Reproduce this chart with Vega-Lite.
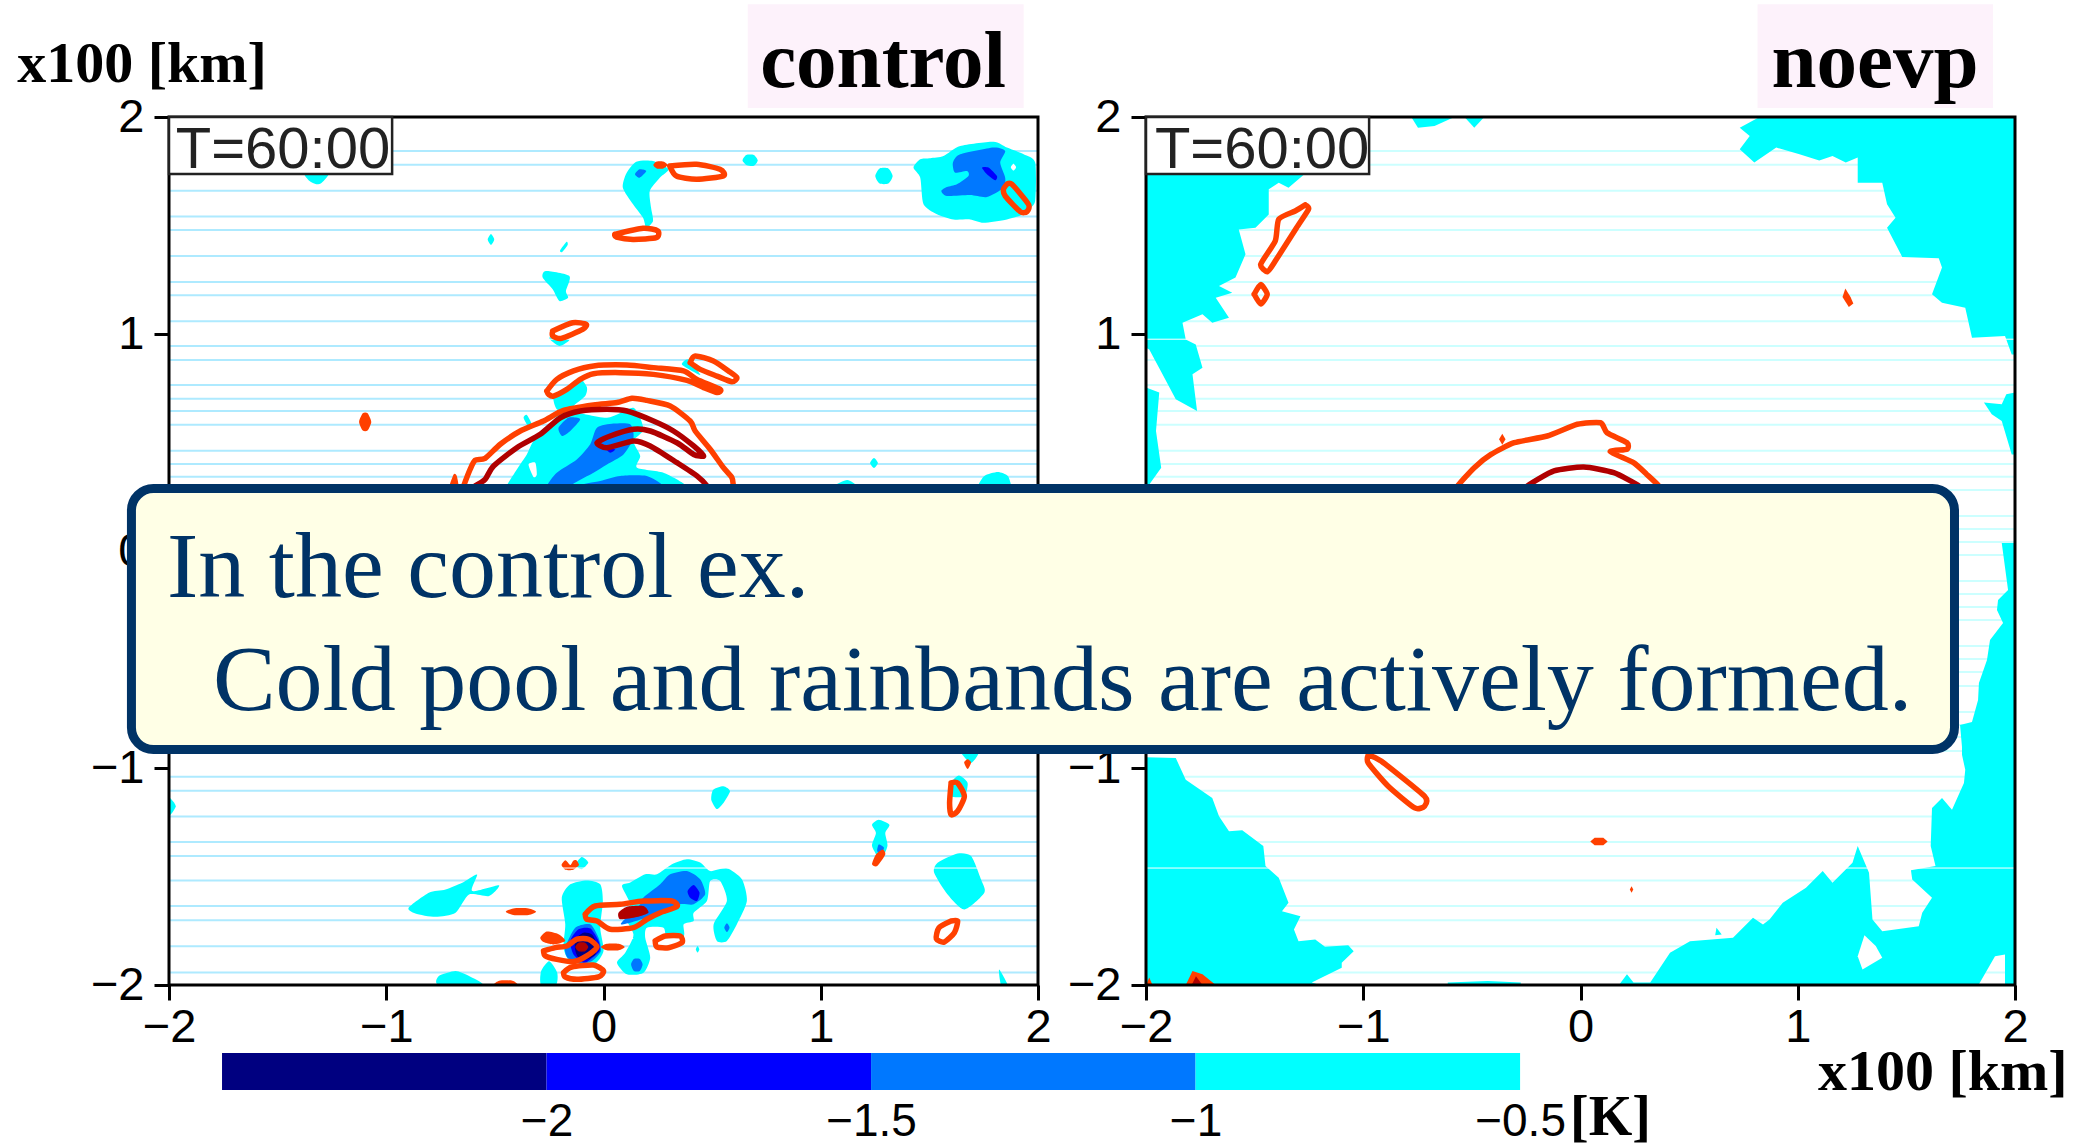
{"$schema":"https://vega.github.io/schema/vega-lite/v6.json","padding":{"left":17,"top":4,"right":0,"bottom":0},"background":"white","bounds":"flush","spacing":936,"config":{"view":{"stroke":null}},
"datasets":{
"streaks":[{"y":1.843,"x0":-2,"x1":2},{"y":1.78,"x0":-2,"x1":2},{"y":1.66,"x0":-2,"x1":2},{"y":1.541,"x0":-2,"x1":2},{"y":1.479,"x0":-2,"x1":2},{"y":1.359,"x0":-2,"x1":2},{"y":1.24,"x0":-2,"x1":2},{"y":1.179,"x0":-2,"x1":2},{"y":1.059,"x0":-2,"x1":2},{"y":0.945,"x0":-2,"x1":2},{"y":0.88,"x0":-2,"x1":2},{"y":0.765,"x0":-2,"x1":2},{"y":0.702,"x0":-2,"x1":2},{"y":0.645,"x0":-2,"x1":2},{"y":0.582,"x0":-2,"x1":2},{"y":0.462,"x0":-2,"x1":2},{"y":0.401,"x0":-2,"x1":2},{"y":0.342,"x0":-2,"x1":2},{"y":0.281,"x0":-2,"x1":2},{"y":0.161,"x0":-2,"x1":2},{"y":0.101,"x0":-2,"x1":2},{"y":0.041,"x0":-2,"x1":2},{"y":-0.019,"x0":-2,"x1":2},{"y":-0.138,"x0":-2,"x1":2},{"y":-0.198,"x0":-2,"x1":2},{"y":-0.258,"x0":-2,"x1":2},{"y":-0.318,"x0":-2,"x1":2},{"y":-0.438,"x0":-2,"x1":2},{"y":-0.498,"x0":-2,"x1":2},{"y":-0.558,"x0":-2,"x1":2},{"y":-0.622,"x0":-2,"x1":2},{"y":-0.742,"x0":-2,"x1":2},{"y":-0.802,"x0":-2,"x1":2},{"y":-0.857,"x0":-2,"x1":2},{"y":-0.922,"x0":-2,"x1":2},{"y":-1.04,"x0":-2,"x1":2},{"y":-1.105,"x0":-2,"x1":2},{"y":-1.224,"x0":-2,"x1":2},{"y":-1.341,"x0":-2,"x1":2},{"y":-1.406,"x0":-2,"x1":2},{"y":-1.519,"x0":-2,"x1":2},{"y":-1.636,"x0":-2,"x1":2},{"y":-1.702,"x0":-2,"x1":2},{"y":-1.822,"x0":-2,"x1":2},{"y":-1.942,"x0":-2,"x1":2}],
"seams":[{"y":0.976,"x0":-2,"x1":2},{"y":-1.461,"x0":-2,"x1":2}],
"controlPools":[
{"id":"a1","lv":"a","x":-1.374,"y":1.74},{"id":"a1","lv":"a","x":-1.267,"y":1.74},{"id":"a1","lv":"a","x":-1.297,"y":1.697},{"id":"a1","lv":"a","x":-1.322,"y":1.69},{"id":"a1","lv":"a","x":-1.353,"y":1.705},
{"id":"a2","lv":"a","x":0.151,"y":1.794},{"id":"a2","lv":"a","x":0.105,"y":1.74},{"id":"a2","lv":"a","x":0.089,"y":1.674},{"id":"a2","lv":"a","x":0.136,"y":1.598},{"id":"a2","lv":"a","x":0.182,"y":1.536},{"id":"a2","lv":"a","x":0.197,"y":1.49},{"id":"a2","lv":"a","x":0.228,"y":1.521},{"id":"a2","lv":"a","x":0.219,"y":1.582},{"id":"a2","lv":"a","x":0.213,"y":1.659},{"id":"a2","lv":"a","x":0.259,"y":1.72},{"id":"a2","lv":"a","x":0.299,"y":1.759},{"id":"a2","lv":"a","x":0.228,"y":1.797},
{"id":"a3","lv":"a","x":0.64,"y":1.8},{"id":"a3","lv":"a","x":0.657,"y":1.825},{"id":"a3","lv":"a","x":0.692,"y":1.825},{"id":"a3","lv":"a","x":0.71,"y":1.8},{"id":"a3","lv":"a","x":0.692,"y":1.775},{"id":"a3","lv":"a","x":0.66,"y":1.778},
{"id":"a4","lv":"a","x":1.251,"y":1.728},{"id":"a4","lv":"a","x":1.271,"y":1.763},{"id":"a4","lv":"a","x":1.311,"y":1.763},{"id":"a4","lv":"a","x":1.331,"y":1.728},{"id":"a4","lv":"a","x":1.311,"y":1.693},{"id":"a4","lv":"a","x":1.271,"y":1.693},
{"id":"a5","lv":"a","x":-0.533,"y":1.436},{"id":"a5","lv":"a","x":-0.518,"y":1.461},{"id":"a5","lv":"a","x":-0.503,"y":1.436},{"id":"a5","lv":"a","x":-0.518,"y":1.411},
{"id":"a6","lv":"a","x":-0.2,"y":1.385},{"id":"a6","lv":"a","x":-0.17,"y":1.425},{"id":"a6","lv":"a","x":-0.165,"y":1.41},{"id":"a6","lv":"a","x":-0.19,"y":1.378},
{"id":"a7","lv":"a","x":-0.265,"y":1.29},{"id":"a7","lv":"a","x":-0.157,"y":1.267},{"id":"a7","lv":"a","x":-0.173,"y":1.198},{"id":"a7","lv":"a","x":-0.163,"y":1.167},{"id":"a7","lv":"a","x":-0.203,"y":1.152},{"id":"a7","lv":"a","x":-0.234,"y":1.206},{"id":"a7","lv":"a","x":-0.28,"y":1.26},
{"id":"a8","lv":"a","x":-0.25,"y":0.983},{"id":"a8","lv":"a","x":-0.157,"y":0.975},{"id":"a8","lv":"a","x":-0.203,"y":0.945},
{"id":"a9","lv":"a","x":0.361,"y":0.86},{"id":"a9","lv":"a","x":0.392,"y":0.883},{"id":"a9","lv":"a","x":0.445,"y":0.814},{"id":"a9","lv":"a","x":0.422,"y":0.822},
{"id":"a10","lv":"a","x":-0.23,"y":0.714},{"id":"a10","lv":"a","x":-0.169,"y":0.753},{"id":"a10","lv":"a","x":-0.107,"y":0.791},{"id":"a10","lv":"a","x":-0.076,"y":0.753},{"id":"a10","lv":"a","x":-0.084,"y":0.714},{"id":"a10","lv":"a","x":-0.13,"y":0.676},{"id":"a10","lv":"a","x":-0.161,"y":0.645},{"id":"a10","lv":"a","x":-0.215,"y":0.653},
{"id":"a11","lv":"a","x":1.427,"y":1.767},{"id":"a11","lv":"a","x":1.458,"y":1.805},{"id":"a11","lv":"a","x":1.504,"y":1.81},{"id":"a11","lv":"a","x":1.565,"y":1.82},{"id":"a11","lv":"a","x":1.642,"y":1.866},{"id":"a11","lv":"a","x":1.795,"y":1.886},{"id":"a11","lv":"a","x":1.857,"y":1.859},{"id":"a11","lv":"a","x":1.934,"y":1.828},{"id":"a11","lv":"a","x":1.987,"y":1.79},{"id":"a11","lv":"a","x":1.987,"y":1.613},{"id":"a11","lv":"a","x":1.956,"y":1.575},{"id":"a11","lv":"a","x":1.934,"y":1.552},{"id":"a11","lv":"a","x":1.857,"y":1.528},{"id":"a11","lv":"a","x":1.749,"y":1.513},{"id":"a11","lv":"a","x":1.688,"y":1.528},{"id":"a11","lv":"a","x":1.611,"y":1.528},{"id":"a11","lv":"a","x":1.535,"y":1.552},{"id":"a11","lv":"a","x":1.473,"y":1.598},{"id":"a11","lv":"a","x":1.458,"y":1.72},
{"id":"a12","lv":"a","x":-0.445,"y":0.25},{"id":"a12","lv":"a","x":-0.445,"y":0.3},{"id":"a12","lv":"a","x":-0.399,"y":0.376},{"id":"a12","lv":"a","x":-0.353,"y":0.445},{"id":"a12","lv":"a","x":-0.322,"y":0.507},{"id":"a12","lv":"a","x":-0.253,"y":0.568},{"id":"a12","lv":"a","x":-0.184,"y":0.645},{"id":"a12","lv":"a","x":0.016,"y":0.614},{"id":"a12","lv":"a","x":0.138,"y":0.66},{"id":"a12","lv":"a","x":0.184,"y":0.561},{"id":"a12","lv":"a","x":0.138,"y":0.507},{"id":"a12","lv":"a","x":0.169,"y":0.438},{"id":"a12","lv":"a","x":0.154,"y":0.384},{"id":"a12","lv":"a","x":0.276,"y":0.361},{"id":"a12","lv":"a","x":0.384,"y":0.3},{"id":"a12","lv":"a","x":0.384,"y":0.25},
{"id":"a13","lv":"a","x":-0.368,"y":0.614},{"id":"a13","lv":"a","x":-0.353,"y":0.627},{"id":"a13","lv":"a","x":-0.33,"y":0.584},{"id":"a13","lv":"a","x":-0.35,"y":0.581},
{"id":"a14","lv":"a","x":1.227,"y":0.405},{"id":"a14","lv":"a","x":1.245,"y":0.428},{"id":"a14","lv":"a","x":1.263,"y":0.405},{"id":"a14","lv":"a","x":1.245,"y":0.382},
{"id":"a15","lv":"a","x":1.06,"y":0.28},{"id":"a15","lv":"a","x":1.06,"y":0.3},{"id":"a15","lv":"a","x":1.122,"y":0.327},{"id":"a15","lv":"a","x":1.168,"y":0.3},{"id":"a15","lv":"a","x":1.168,"y":0.28},
{"id":"a16","lv":"a","x":1.723,"y":0.28},{"id":"a16","lv":"a","x":1.723,"y":0.3},{"id":"a16","lv":"a","x":1.753,"y":0.346},{"id":"a16","lv":"a","x":1.815,"y":0.364},{"id":"a16","lv":"a","x":1.861,"y":0.346},{"id":"a16","lv":"a","x":1.877,"y":0.3},{"id":"a16","lv":"a","x":1.877,"y":0.28},
{"id":"a17","lv":"a","x":1.63,"y":-0.9},{"id":"a17","lv":"a","x":1.738,"y":-0.9},{"id":"a17","lv":"a","x":1.692,"y":-0.977},
{"id":"a18","lv":"a","x":1.6,"y":-1.069},{"id":"a18","lv":"a","x":1.636,"y":-1.035},{"id":"a18","lv":"a","x":1.676,"y":-1.069},{"id":"a18","lv":"a","x":1.661,"y":-1.13},{"id":"a18","lv":"a","x":1.6,"y":-1.13},
{"id":"a19","lv":"a","x":0.505,"y":-1.1},{"id":"a19","lv":"a","x":0.552,"y":-1.084},{"id":"a19","lv":"a","x":0.582,"y":-1.107},{"id":"a19","lv":"a","x":0.552,"y":-1.161},{"id":"a19","lv":"a","x":0.521,"y":-1.189},{"id":"a19","lv":"a","x":0.496,"y":-1.146},
{"id":"a20","lv":"a","x":-2,"y":-1.138},{"id":"a20","lv":"a","x":-1.969,"y":-1.176},{"id":"a20","lv":"a","x":-2,"y":-1.219},
{"id":"a21","lv":"a","x":1.236,"y":-1.261},{"id":"a21","lv":"a","x":1.267,"y":-1.238},{"id":"a21","lv":"a","x":1.316,"y":-1.261},{"id":"a21","lv":"a","x":1.297,"y":-1.299},{"id":"a21","lv":"a","x":1.307,"y":-1.36},{"id":"a21","lv":"a","x":1.276,"y":-1.422},{"id":"a21","lv":"a","x":1.236,"y":-1.36},{"id":"a21","lv":"a","x":1.254,"y":-1.299},
{"id":"a22","lv":"a","x":1.538,"y":-1.437},{"id":"a22","lv":"a","x":1.63,"y":-1.394},{"id":"a22","lv":"a","x":1.692,"y":-1.406},{"id":"a22","lv":"a","x":1.738,"y":-1.514},{"id":"a22","lv":"a","x":1.753,"y":-1.575},{"id":"a22","lv":"a","x":1.661,"y":-1.652},{"id":"a22","lv":"a","x":1.584,"y":-1.583},{"id":"a22","lv":"a","x":1.522,"y":-1.483},
{"id":"a23","lv":"a","x":1.821,"y":-1.928},{"id":"a23","lv":"a","x":1.861,"y":-2},{"id":"a23","lv":"a","x":1.83,"y":-2},
{"id":"a24","lv":"a","x":-0.758,"y":-2},{"id":"a24","lv":"a","x":-0.758,"y":-1.959},{"id":"a24","lv":"a","x":-0.681,"y":-1.936},{"id":"a24","lv":"a","x":-0.619,"y":-1.959},{"id":"a24","lv":"a","x":-0.558,"y":-2},
{"id":"a25","lv":"a","x":-0.897,"y":-1.644},{"id":"a25","lv":"a","x":-0.804,"y":-1.575},{"id":"a25","lv":"a","x":-0.727,"y":-1.56},{"id":"a25","lv":"a","x":-0.65,"y":-1.529},{"id":"a25","lv":"a","x":-0.582,"y":-1.491},{"id":"a25","lv":"a","x":-0.604,"y":-1.567},{"id":"a25","lv":"a","x":-0.481,"y":-1.54},{"id":"a25","lv":"a","x":-0.527,"y":-1.59},{"id":"a25","lv":"a","x":-0.619,"y":-1.583},{"id":"a25","lv":"a","x":-0.681,"y":-1.667},{"id":"a25","lv":"a","x":-0.773,"y":-1.686},{"id":"a25","lv":"a","x":-0.866,"y":-1.67},
{"id":"a26","lv":"a","x":-0.287,"y":-1.936},{"id":"a26","lv":"a","x":-0.25,"y":-1.89},{"id":"a26","lv":"a","x":-0.213,"y":-1.943},{"id":"a26","lv":"a","x":-0.219,"y":-2},{"id":"a26","lv":"a","x":-0.287,"y":-2},
{"id":"a27","lv":"a","x":-0.192,"y":-1.597},{"id":"a27","lv":"a","x":-0.153,"y":-1.536},{"id":"a27","lv":"a","x":-0.077,"y":-1.518},{"id":"a27","lv":"a","x":-0.015,"y":-1.536},{"id":"a27","lv":"a","x":-0.003,"y":-1.613},{"id":"a27","lv":"a","x":-0.015,"y":-1.736},{"id":"a27","lv":"a","x":0,"y":-1.843},{"id":"a27","lv":"a","x":-0.046,"y":-1.905},{"id":"a27","lv":"a","x":-0.153,"y":-1.889},{"id":"a27","lv":"a","x":-0.184,"y":-1.828},{"id":"a27","lv":"a","x":-0.176,"y":-1.72},
{"id":"a28","lv":"a","x":0.085,"y":-1.544},{"id":"a28","lv":"a","x":0.123,"y":-1.528},{"id":"a28","lv":"a","x":0.192,"y":-1.49},{"id":"a28","lv":"a","x":0.246,"y":-1.49},{"id":"a28","lv":"a","x":0.315,"y":-1.444},{"id":"a28","lv":"a","x":0.384,"y":-1.421},{"id":"a28","lv":"a","x":0.445,"y":-1.436},{"id":"a28","lv":"a","x":0.491,"y":-1.475},{"id":"a28","lv":"a","x":0.568,"y":-1.462},{"id":"a28","lv":"a","x":0.637,"y":-1.513},{"id":"a28","lv":"a","x":0.66,"y":-1.613},{"id":"a28","lv":"a","x":0.614,"y":-1.72},{"id":"a28","lv":"a","x":0.568,"y":-1.797},{"id":"a28","lv":"a","x":0.522,"y":-1.797},{"id":"a28","lv":"a","x":0.507,"y":-1.72},{"id":"a28","lv":"a","x":0.568,"y":-1.613},{"id":"a28","lv":"a","x":0.537,"y":-1.521},{"id":"a28","lv":"a","x":0.491,"y":-1.521},{"id":"a28","lv":"a","x":0.476,"y":-1.613},{"id":"a28","lv":"a","x":0.415,"y":-1.667},{"id":"a28","lv":"a","x":0.415,"y":-1.705},{"id":"a28","lv":"a","x":0.369,"y":-1.72},{"id":"a28","lv":"a","x":0.369,"y":-1.774},{"id":"a28","lv":"a","x":0.292,"y":-1.782},{"id":"a28","lv":"a","x":0.276,"y":-1.736},{"id":"a28","lv":"a","x":0.2,"y":-1.736},{"id":"a28","lv":"a","x":0.192,"y":-1.782},{"id":"a28","lv":"a","x":0.215,"y":-1.874},{"id":"a28","lv":"a","x":0.184,"y":-1.943},{"id":"a28","lv":"a","x":0.108,"y":-1.951},{"id":"a28","lv":"a","x":0.062,"y":-1.897},{"id":"a28","lv":"a","x":0.1,"y":-1.851},{"id":"a28","lv":"a","x":0.138,"y":-1.767},{"id":"a28","lv":"a","x":0.092,"y":-1.674},{"id":"a28","lv":"a","x":0.123,"y":-1.628},
{"id":"a29","lv":"a","x":-0.13,"y":-1.447},{"id":"a29","lv":"a","x":-0.1,"y":-1.41},{"id":"a29","lv":"a","x":-0.07,"y":-1.436},{"id":"a29","lv":"a","x":-0.1,"y":-1.466},
{"id":"a30","lv":"a","x":0.425,"y":-1.836},{"id":"a30","lv":"a","x":0.433,"y":-1.82},{"id":"a30","lv":"a","x":0.441,"y":-1.836},{"id":"a30","lv":"a","x":0.433,"y":-1.85},
{"id":"b1","lv":"b","x":1.611,"y":1.797},{"id":"b1","lv":"b","x":1.642,"y":1.828},{"id":"b1","lv":"b","x":1.795,"y":1.859},{"id":"b1","lv":"b","x":1.849,"y":1.843},{"id":"b1","lv":"b","x":1.826,"y":1.79},{"id":"b1","lv":"b","x":1.849,"y":1.72},{"id":"b1","lv":"b","x":1.841,"y":1.674},{"id":"b1","lv":"b","x":1.765,"y":1.631},{"id":"b1","lv":"b","x":1.688,"y":1.64},{"id":"b1","lv":"b","x":1.581,"y":1.636},{"id":"b1","lv":"b","x":1.555,"y":1.659},{"id":"b1","lv":"b","x":1.581,"y":1.677},{"id":"b1","lv":"b","x":1.627,"y":1.69},{"id":"b1","lv":"b","x":1.68,"y":1.728},{"id":"b1","lv":"b","x":1.673,"y":1.751},{"id":"b1","lv":"b","x":1.619,"y":1.743},{"id":"b1","lv":"b","x":1.608,"y":1.774},
{"id":"b2","lv":"b","x":0.166,"y":1.759},{"id":"b2","lv":"b","x":0.197,"y":1.751},{"id":"b2","lv":"b","x":0.166,"y":1.72},{"id":"b2","lv":"b","x":0.145,"y":1.736},
{"id":"b3","lv":"b","x":-0.207,"y":0.568},{"id":"b3","lv":"b","x":-0.161,"y":0.614},{"id":"b3","lv":"b","x":-0.107,"y":0.607},{"id":"b3","lv":"b","x":-0.153,"y":0.553},{"id":"b3","lv":"b","x":-0.191,"y":0.53},
{"id":"b4","lv":"b","x":-0.261,"y":0.25},{"id":"b4","lv":"b","x":-0.261,"y":0.3},{"id":"b4","lv":"b","x":-0.215,"y":0.361},{"id":"b4","lv":"b","x":-0.123,"y":0.422},{"id":"b4","lv":"b","x":-0.061,"y":0.492},{"id":"b4","lv":"b","x":-0.03,"y":0.568},{"id":"b4","lv":"b","x":0.046,"y":0.587},{"id":"b4","lv":"b","x":0.123,"y":0.584},{"id":"b4","lv":"b","x":0.138,"y":0.522},{"id":"b4","lv":"b","x":0.092,"y":0.445},{"id":"b4","lv":"b","x":0.016,"y":0.399},{"id":"b4","lv":"b","x":-0.046,"y":0.361},{"id":"b4","lv":"b","x":-0.153,"y":0.3},{"id":"b4","lv":"b","x":-0.153,"y":0.25},
{"id":"b5","lv":"b","x":-0.123,"y":0.25},{"id":"b5","lv":"b","x":-0.123,"y":0.3},{"id":"b5","lv":"b","x":-0.015,"y":0.323},{"id":"b5","lv":"b","x":0.077,"y":0.346},{"id":"b5","lv":"b","x":0.199,"y":0.346},{"id":"b5","lv":"b","x":0.276,"y":0.3},{"id":"b5","lv":"b","x":0.276,"y":0.25},
{"id":"b6","lv":"b","x":1.267,"y":-1.353},{"id":"b6","lv":"b","x":1.291,"y":-1.368},{"id":"b6","lv":"b","x":1.276,"y":-1.399},{"id":"b6","lv":"b","x":1.26,"y":-1.383},
{"id":"b7","lv":"b","x":0.184,"y":-1.597},{"id":"b7","lv":"b","x":0.261,"y":-1.536},{"id":"b7","lv":"b","x":0.307,"y":-1.49},{"id":"b7","lv":"b","x":0.384,"y":-1.475},{"id":"b7","lv":"b","x":0.445,"y":-1.513},{"id":"b7","lv":"b","x":0.468,"y":-1.582},{"id":"b7","lv":"b","x":0.415,"y":-1.628},{"id":"b7","lv":"b","x":0.353,"y":-1.628},{"id":"b7","lv":"b","x":0.292,"y":-1.667},{"id":"b7","lv":"b","x":0.2,"y":-1.69},{"id":"b7","lv":"b","x":0.08,"y":-1.72},{"id":"b7","lv":"b","x":0.169,"y":-1.628},
{"id":"b8","lv":"b","x":0.556,"y":-1.736},{"id":"b8","lv":"b","x":0.568,"y":-1.716},{"id":"b8","lv":"b","x":0.58,"y":-1.736},{"id":"b8","lv":"b","x":0.568,"y":-1.756},
{"id":"b9","lv":"b","x":0.127,"y":-1.905},{"id":"b9","lv":"b","x":0.14,"y":-1.88},{"id":"b9","lv":"b","x":0.167,"y":-1.88},{"id":"b9","lv":"b","x":0.18,"y":-1.905},{"id":"b9","lv":"b","x":0.167,"y":-1.935},{"id":"b9","lv":"b","x":0.14,"y":-1.935},
{"id":"b10","lv":"b","x":-0.176,"y":-1.828},{"id":"b10","lv":"b","x":-0.13,"y":-1.736},{"id":"b10","lv":"b","x":-0.061,"y":-1.72},{"id":"b10","lv":"b","x":-0.023,"y":-1.782},{"id":"b10","lv":"b","x":-0.012,"y":-1.843},{"id":"b10","lv":"b","x":-0.053,"y":-1.889},{"id":"b10","lv":"b","x":-0.107,"y":-1.902},{"id":"b10","lv":"b","x":-0.165,"y":-1.874},
{"id":"c1","lv":"c","x":1.742,"y":1.767},{"id":"c1","lv":"c","x":1.772,"y":1.767},{"id":"c1","lv":"c","x":1.811,"y":1.728},{"id":"c1","lv":"c","x":1.803,"y":1.708},{"id":"c1","lv":"c","x":1.765,"y":1.736},
{"id":"c2","lv":"c","x":0.008,"y":0.476},{"id":"c2","lv":"c","x":0.054,"y":0.469},{"id":"c2","lv":"c","x":0.031,"y":0.453},
{"id":"c3","lv":"c","x":0.387,"y":-1.567},{"id":"c3","lv":"c","x":0.415,"y":-1.539},{"id":"c3","lv":"c","x":0.442,"y":-1.574},{"id":"c3","lv":"c","x":0.43,"y":-1.613},{"id":"c3","lv":"c","x":0.399,"y":-1.598},
{"id":"c4","lv":"c","x":-0.153,"y":-1.797},{"id":"c4","lv":"c","x":-0.115,"y":-1.743},{"id":"c4","lv":"c","x":-0.061,"y":-1.739},{"id":"c4","lv":"c","x":-0.023,"y":-1.797},{"id":"c4","lv":"c","x":-0.018,"y":-1.843},{"id":"c4","lv":"c","x":-0.061,"y":-1.882},{"id":"c4","lv":"c","x":-0.092,"y":-1.897},{"id":"c4","lv":"c","x":-0.138,"y":-1.859},
{"id":"d1","lv":"d","x":-0.13,"y":-1.789},{"id":"d1","lv":"d","x":-0.092,"y":-1.759},{"id":"d1","lv":"d","x":-0.053,"y":-1.767},{"id":"d1","lv":"d","x":-0.03,"y":-1.813},{"id":"d1","lv":"d","x":-0.038,"y":-1.859},{"id":"d1","lv":"d","x":-0.077,"y":-1.882},{"id":"d1","lv":"d","x":-0.115,"y":-1.874},{"id":"d1","lv":"d","x":-0.13,"y":-1.84},
{"id":"w1","lv":"w","x":1.875,"y":1.769},{"id":"w1","lv":"w","x":1.887,"y":1.785},{"id":"w1","lv":"w","x":1.899,"y":1.769},{"id":"w1","lv":"w","x":1.887,"y":1.753},
{"id":"w2","lv":"w","x":-0.345,"y":0.399},{"id":"w2","lv":"w","x":-0.314,"y":0.407},{"id":"w2","lv":"w","x":-0.307,"y":0.353},{"id":"w2","lv":"w","x":-0.322,"y":0.341},
{"id":"w3","lv":"w","x":0.078,"y":-1.785},{"id":"w3","lv":"w","x":0.108,"y":-1.773},{"id":"w3","lv":"w","x":0.138,"y":-1.785},{"id":"w3","lv":"w","x":0.108,"y":-1.797},
{"id":"o1","lv":"o","x":-1.125,"y":0.595},{"id":"o1","lv":"o","x":-1.108,"y":0.635},{"id":"o1","lv":"o","x":-1.086,"y":0.635},{"id":"o1","lv":"o","x":-1.069,"y":0.595},{"id":"o1","lv":"o","x":-1.086,"y":0.555},{"id":"o1","lv":"o","x":-1.108,"y":0.555},
{"id":"o2","lv":"o","x":0.229,"y":1.779},{"id":"o2","lv":"o","x":0.245,"y":1.795},{"id":"o2","lv":"o","x":0.275,"y":1.795},{"id":"o2","lv":"o","x":0.295,"y":1.779},{"id":"o2","lv":"o","x":0.275,"y":1.763},{"id":"o2","lv":"o","x":0.245,"y":1.763},
{"id":"o3","lv":"o","x":-0.713,"y":0.28},{"id":"o3","lv":"o","x":-0.69,"y":0.353},{"id":"o3","lv":"o","x":-0.675,"y":0.345},{"id":"o3","lv":"o","x":-0.667,"y":0.28},
{"id":"o4","lv":"o","x":-0.153,"y":-1.447},{"id":"o4","lv":"o","x":-0.14,"y":-1.428},{"id":"o4","lv":"o","x":-0.125,"y":-1.425},{"id":"o4","lv":"o","x":-0.113,"y":-1.447},{"id":"o4","lv":"o","x":-0.14,"y":-1.469},{"id":"o4","lv":"o","x":-0.175,"y":-1.469},{"id":"o4","lv":"o","x":-0.193,"y":-1.447},{"id":"o4","lv":"o","x":-0.175,"y":-1.425},
{"id":"o5","lv":"o","x":-0.45,"y":-1.662},{"id":"o5","lv":"o","x":-0.415,"y":-1.647},{"id":"o5","lv":"o","x":-0.345,"y":-1.647},{"id":"o5","lv":"o","x":-0.31,"y":-1.662},{"id":"o5","lv":"o","x":-0.345,"y":-1.677},{"id":"o5","lv":"o","x":-0.415,"y":-1.677},
{"id":"o6","lv":"o","x":-0.291,"y":-1.782},{"id":"o6","lv":"o","x":-0.261,"y":-1.754},{"id":"o6","lv":"o","x":-0.207,"y":-1.766},{"id":"o6","lv":"o","x":-0.176,"y":-1.797},{"id":"o6","lv":"o","x":-0.23,"y":-1.813},{"id":"o6","lv":"o","x":-0.276,"y":-1.802},
{"id":"o7","lv":"o","x":-0.012,"y":-1.825},{"id":"o7","lv":"o","x":0.015,"y":-1.81},{"id":"o7","lv":"o","x":0.07,"y":-1.81},{"id":"o7","lv":"o","x":0.098,"y":-1.825},{"id":"o7","lv":"o","x":0.07,"y":-1.84},{"id":"o7","lv":"o","x":0.015,"y":-1.84},
{"id":"o8","lv":"o","x":1.285,"y":-1.376},{"id":"o8","lv":"o","x":1.297,"y":-1.399},{"id":"o8","lv":"o","x":1.26,"y":-1.452},{"id":"o8","lv":"o","x":1.236,"y":-1.444},{"id":"o8","lv":"o","x":1.254,"y":-1.399},
{"id":"o9","lv":"o","x":-0.502,"y":-2},{"id":"o9","lv":"o","x":-0.48,"y":-1.98},{"id":"o9","lv":"o","x":-0.419,"y":-1.98},{"id":"o9","lv":"o","x":-0.398,"y":-2},
{"id":"o10","lv":"o","x":1.66,"y":-0.975},{"id":"o10","lv":"o","x":1.676,"y":-0.96},{"id":"o10","lv":"o","x":1.692,"y":-0.975},{"id":"o10","lv":"o","x":1.676,"y":-1.005},
{"id":"r1","lv":"r","x":0.069,"y":-1.667},{"id":"r1","lv":"r","x":0.108,"y":-1.639},{"id":"r1","lv":"r","x":0.184,"y":-1.636},{"id":"r1","lv":"r","x":0.207,"y":-1.667},{"id":"r1","lv":"r","x":0.154,"y":-1.687},{"id":"r1","lv":"r","x":0.077,"y":-1.697},
{"id":"r2","lv":"r","x":-0.13,"y":-1.825},{"id":"r2","lv":"r","x":-0.115,"y":-1.805},{"id":"r2","lv":"r","x":-0.085,"y":-1.805},{"id":"r2","lv":"r","x":-0.07,"y":-1.825},{"id":"r2","lv":"r","x":-0.085,"y":-1.845},{"id":"r2","lv":"r","x":-0.115,"y":-1.845}
],
"controlContours":[
{"id":"k1","lv":"o","x":1.857,"y":1.69},{"id":"k1","lv":"o","x":1.88,"y":1.69},{"id":"k1","lv":"o","x":1.956,"y":1.598},{"id":"k1","lv":"o","x":1.949,"y":1.564},{"id":"k1","lv":"o","x":1.918,"y":1.564},{"id":"k1","lv":"o","x":1.849,"y":1.636},{"id":"k1","lv":"o","x":1.841,"y":1.667},{"id":"k1","lv":"o","x":1.857,"y":1.69},
{"id":"k2","lv":"o","x":0.305,"y":1.774},{"id":"k2","lv":"o","x":0.428,"y":1.782},{"id":"k2","lv":"o","x":0.536,"y":1.759},{"id":"k2","lv":"o","x":0.552,"y":1.728},{"id":"k2","lv":"o","x":0.428,"y":1.713},{"id":"k2","lv":"o","x":0.336,"y":1.728},{"id":"k2","lv":"o","x":0.305,"y":1.774},
{"id":"k3","lv":"o","x":0.052,"y":1.459},{"id":"k3","lv":"o","x":0.182,"y":1.487},{"id":"k3","lv":"o","x":0.25,"y":1.475},{"id":"k3","lv":"o","x":0.243,"y":1.444},{"id":"k3","lv":"o","x":0.136,"y":1.436},{"id":"k3","lv":"o","x":0.059,"y":1.447},{"id":"k3","lv":"o","x":0.052,"y":1.459},
{"id":"k4","lv":"o","x":-0.234,"y":1.014},{"id":"k4","lv":"o","x":-0.142,"y":1.052},{"id":"k4","lv":"o","x":-0.08,"y":1.045},{"id":"k4","lv":"o","x":-0.096,"y":1.021},{"id":"k4","lv":"o","x":-0.194,"y":0.98},{"id":"k4","lv":"o","x":-0.234,"y":0.991},{"id":"k4","lv":"o","x":-0.234,"y":1.014},
{"id":"k5","lv":"o","x":-0.261,"y":0.737},{"id":"k5","lv":"o","x":-0.215,"y":0.791},{"id":"k5","lv":"o","x":-0.138,"y":0.83},{"id":"k5","lv":"o","x":-0.046,"y":0.853},{"id":"k5","lv":"o","x":0.108,"y":0.857},{"id":"k5","lv":"o","x":0.23,"y":0.845},{"id":"k5","lv":"o","x":0.368,"y":0.83},{"id":"k5","lv":"o","x":0.43,"y":0.791},{"id":"k5","lv":"o","x":0.537,"y":0.745},{"id":"k5","lv":"o","x":0.522,"y":0.73},{"id":"k5","lv":"o","x":0.461,"y":0.753},{"id":"k5","lv":"o","x":0.384,"y":0.786},{"id":"k5","lv":"o","x":0.23,"y":0.814},{"id":"k5","lv":"o","x":0.077,"y":0.822},{"id":"k5","lv":"o","x":-0.046,"y":0.817},{"id":"k5","lv":"o","x":-0.107,"y":0.791},{"id":"k5","lv":"o","x":-0.169,"y":0.745},{"id":"k5","lv":"o","x":-0.23,"y":0.714},{"id":"k5","lv":"o","x":-0.253,"y":0.722},{"id":"k5","lv":"o","x":-0.261,"y":0.737},
{"id":"k6","lv":"o","x":0.399,"y":0.868},{"id":"k6","lv":"o","x":0.422,"y":0.899},{"id":"k6","lv":"o","x":0.506,"y":0.876},{"id":"k6","lv":"o","x":0.575,"y":0.83},{"id":"k6","lv":"o","x":0.614,"y":0.799},{"id":"k6","lv":"o","x":0.591,"y":0.78},{"id":"k6","lv":"o","x":0.522,"y":0.806},{"id":"k6","lv":"o","x":0.445,"y":0.837},{"id":"k6","lv":"o","x":0.399,"y":0.868},
{"id":"k7","lv":"o","x":-0.66,"y":0.25},{"id":"k7","lv":"o","x":-0.644,"y":0.299},{"id":"k7","lv":"o","x":-0.614,"y":0.376},{"id":"k7","lv":"o","x":-0.591,"y":0.418},{"id":"k7","lv":"o","x":-0.545,"y":0.427},{"id":"k7","lv":"o","x":-0.475,"y":0.492},{"id":"k7","lv":"o","x":-0.383,"y":0.553},{"id":"k7","lv":"o","x":-0.276,"y":0.599},{"id":"k7","lv":"o","x":-0.184,"y":0.648},{"id":"k7","lv":"o","x":-0.046,"y":0.673},{"id":"k7","lv":"o","x":0.062,"y":0.684},{"id":"k7","lv":"o","x":0.131,"y":0.704},{"id":"k7","lv":"o","x":0.199,"y":0.694},{"id":"k7","lv":"o","x":0.307,"y":0.668},{"id":"k7","lv":"o","x":0.399,"y":0.599},{"id":"k7","lv":"o","x":0.422,"y":0.553},{"id":"k7","lv":"o","x":0.491,"y":0.469},{"id":"k7","lv":"o","x":0.552,"y":0.384},{"id":"k7","lv":"o","x":0.591,"y":0.338},{"id":"k7","lv":"o","x":0.598,"y":0.299},{"id":"k7","lv":"o","x":0.61,"y":0.25},
{"id":"k9","lv":"o","x":1.6,"y":-1.069},{"id":"k9","lv":"o","x":1.63,"y":-1.069},{"id":"k9","lv":"o","x":1.661,"y":-1.13},{"id":"k9","lv":"o","x":1.63,"y":-1.199},{"id":"k9","lv":"o","x":1.6,"y":-1.215},{"id":"k9","lv":"o","x":1.593,"y":-1.161},{"id":"k9","lv":"o","x":1.6,"y":-1.069},
{"id":"k10","lv":"o","x":1.6,"y":-1.705},{"id":"k10","lv":"o","x":1.63,"y":-1.705},{"id":"k10","lv":"o","x":1.615,"y":-1.759},{"id":"k10","lv":"o","x":1.568,"y":-1.802},{"id":"k10","lv":"o","x":1.532,"y":-1.787},{"id":"k10","lv":"o","x":1.544,"y":-1.736},{"id":"k10","lv":"o","x":1.6,"y":-1.705},
{"id":"k11","lv":"o","x":-0.084,"y":-1.674},{"id":"k11","lv":"o","x":-0.038,"y":-1.636},{"id":"k11","lv":"o","x":0.077,"y":-1.628},{"id":"k11","lv":"o","x":0.184,"y":-1.613},{"id":"k11","lv":"o","x":0.315,"y":-1.613},{"id":"k11","lv":"o","x":0.338,"y":-1.639},{"id":"k11","lv":"o","x":0.261,"y":-1.667},{"id":"k11","lv":"o","x":0.2,"y":-1.697},{"id":"k11","lv":"o","x":0.138,"y":-1.736},{"id":"k11","lv":"o","x":0.031,"y":-1.743},{"id":"k11","lv":"o","x":-0.03,"y":-1.705},{"id":"k11","lv":"o","x":-0.077,"y":-1.697},{"id":"k11","lv":"o","x":-0.084,"y":-1.674},
{"id":"k12","lv":"o","x":-0.276,"y":-1.843},{"id":"k12","lv":"o","x":-0.222,"y":-1.828},{"id":"k12","lv":"o","x":-0.169,"y":-1.82},{"id":"k12","lv":"o","x":-0.122,"y":-1.789},{"id":"k12","lv":"o","x":-0.069,"y":-1.789},{"id":"k12","lv":"o","x":-0.03,"y":-1.825},{"id":"k12","lv":"o","x":-0.077,"y":-1.866},{"id":"k12","lv":"o","x":-0.138,"y":-1.892},{"id":"k12","lv":"o","x":-0.215,"y":-1.882},{"id":"k12","lv":"o","x":-0.268,"y":-1.866},{"id":"k12","lv":"o","x":-0.276,"y":-1.843},
{"id":"k13","lv":"o","x":-0.184,"y":-1.943},{"id":"k13","lv":"o","x":-0.146,"y":-1.917},{"id":"k13","lv":"o","x":-0.046,"y":-1.908},{"id":"k13","lv":"o","x":0,"y":-1.935},{"id":"k13","lv":"o","x":-0.023,"y":-1.963},{"id":"k13","lv":"o","x":-0.122,"y":-1.974},{"id":"k13","lv":"o","x":-0.176,"y":-1.963},{"id":"k13","lv":"o","x":-0.184,"y":-1.943},
{"id":"k14","lv":"o","x":0.238,"y":-1.797},{"id":"k14","lv":"o","x":0.284,"y":-1.774},{"id":"k14","lv":"o","x":0.353,"y":-1.774},{"id":"k14","lv":"o","x":0.361,"y":-1.805},{"id":"k14","lv":"o","x":0.3,"y":-1.828},{"id":"k14","lv":"o","x":0.246,"y":-1.825},{"id":"k14","lv":"o","x":0.238,"y":-1.797},
{"id":"m1","lv":"r","x":-0.591,"y":0.3},{"id":"m1","lv":"r","x":-0.545,"y":0.33},{"id":"m1","lv":"r","x":-0.506,"y":0.392},{"id":"m1","lv":"r","x":-0.399,"y":0.476},{"id":"m1","lv":"r","x":-0.291,"y":0.538},{"id":"m1","lv":"r","x":-0.199,"y":0.614},{"id":"m1","lv":"r","x":-0.107,"y":0.645},{"id":"m1","lv":"r","x":0.016,"y":0.653},{"id":"m1","lv":"r","x":0.108,"y":0.645},{"id":"m1","lv":"r","x":0.23,"y":0.599},{"id":"m1","lv":"r","x":0.322,"y":0.553},{"id":"m1","lv":"r","x":0.415,"y":0.484},{"id":"m1","lv":"r","x":0.461,"y":0.438},{"id":"m1","lv":"r","x":0.415,"y":0.445},{"id":"m1","lv":"r","x":0.338,"y":0.499},{"id":"m1","lv":"r","x":0.215,"y":0.553},{"id":"m1","lv":"r","x":0.138,"y":0.561},{"id":"m1","lv":"r","x":0.031,"y":0.53},{"id":"m1","lv":"r","x":-0.03,"y":0.499},{"id":"m1","lv":"r","x":0.016,"y":0.476},{"id":"m1","lv":"r","x":0.138,"y":0.507},{"id":"m1","lv":"r","x":0.215,"y":0.484},{"id":"m1","lv":"r","x":0.338,"y":0.407},{"id":"m1","lv":"r","x":0.43,"y":0.346},{"id":"m1","lv":"r","x":0.476,"y":0.3},{"id":"m1","lv":"r","x":0.5,"y":0.25}
],
"noevpPools":[
{"id":"a1","lv":"a","x":-2,"y":1.74},{"id":"a1","lv":"a","x":-1.267,"y":1.74},{"id":"a1","lv":"a","x":-1.344,"y":1.674},{"id":"a1","lv":"a","x":-1.389,"y":1.697},{"id":"a1","lv":"a","x":-1.435,"y":1.667},{"id":"a1","lv":"a","x":-1.435,"y":1.551},{"id":"a1","lv":"a","x":-1.496,"y":1.49},{"id":"a1","lv":"a","x":-1.573,"y":1.482},{"id":"a1","lv":"a","x":-1.542,"y":1.367},{"id":"a1","lv":"a","x":-1.588,"y":1.26},{"id":"a1","lv":"a","x":-1.664,"y":1.221},{"id":"a1","lv":"a","x":-1.603,"y":1.19},{"id":"a1","lv":"a","x":-1.679,"y":1.167},{"id":"a1","lv":"a","x":-1.618,"y":1.075},{"id":"a1","lv":"a","x":-1.695,"y":1.052},{"id":"a1","lv":"a","x":-1.74,"y":1.091},{"id":"a1","lv":"a","x":-1.832,"y":1.052},{"id":"a1","lv":"a","x":-1.817,"y":0.975},{"id":"a1","lv":"a","x":-1.771,"y":0.952},{"id":"a1","lv":"a","x":-1.74,"y":0.845},{"id":"a1","lv":"a","x":-1.786,"y":0.814},{"id":"a1","lv":"a","x":-1.765,"y":0.645},{"id":"a1","lv":"a","x":-1.863,"y":0.699},{"id":"a1","lv":"a","x":-1.924,"y":0.814},{"id":"a1","lv":"a","x":-1.985,"y":0.929},{"id":"a1","lv":"a","x":-2,"y":0.937},
{"id":"a2","lv":"a","x":-2,"y":0.753},{"id":"a2","lv":"a","x":-1.939,"y":0.73},{"id":"a2","lv":"a","x":-1.954,"y":0.553},{"id":"a2","lv":"a","x":-1.93,"y":0.384},{"id":"a2","lv":"a","x":-1.985,"y":0.307},{"id":"a2","lv":"a","x":-2,"y":0.25},
{"id":"a3","lv":"a","x":-0.779,"y":2},{"id":"a3","lv":"a","x":-0.58,"y":2},{"id":"a3","lv":"a","x":-0.672,"y":1.959},{"id":"a3","lv":"a","x":-0.748,"y":1.951},
{"id":"a4","lv":"a","x":-0.534,"y":2},{"id":"a4","lv":"a","x":-0.443,"y":2},{"id":"a4","lv":"a","x":-0.489,"y":1.951},
{"id":"a5","lv":"a","x":0.824,"y":2},{"id":"a5","lv":"a","x":0.733,"y":1.951},{"id":"a5","lv":"a","x":0.779,"y":1.912},{"id":"a5","lv":"a","x":0.733,"y":1.851},{"id":"a5","lv":"a","x":0.8,"y":1.79},{"id":"a5","lv":"a","x":0.901,"y":1.859},{"id":"a5","lv":"a","x":1.008,"y":1.828},{"id":"a5","lv":"a","x":1.099,"y":1.8},{"id":"a5","lv":"a","x":1.16,"y":1.82},{"id":"a5","lv":"a","x":1.221,"y":1.79},{"id":"a5","lv":"a","x":1.276,"y":1.813},{"id":"a5","lv":"a","x":1.276,"y":1.697},{"id":"a5","lv":"a","x":1.389,"y":1.697},{"id":"a5","lv":"a","x":1.411,"y":1.598},{"id":"a5","lv":"a","x":1.45,"y":1.536},{"id":"a5","lv":"a","x":1.411,"y":1.49},{"id":"a5","lv":"a","x":1.481,"y":1.355},{"id":"a5","lv":"a","x":1.649,"y":1.349},{"id":"a5","lv":"a","x":1.664,"y":1.306},{"id":"a5","lv":"a","x":1.618,"y":1.183},{"id":"a5","lv":"a","x":1.664,"y":1.144},{"id":"a5","lv":"a","x":1.771,"y":1.121},{"id":"a5","lv":"a","x":1.802,"y":0.983},{"id":"a5","lv":"a","x":1.954,"y":0.991},{"id":"a5","lv":"a","x":1.985,"y":0.906},{"id":"a5","lv":"a","x":2,"y":0.906},{"id":"a5","lv":"a","x":2,"y":2},
{"id":"a6","lv":"a","x":2,"y":0.73},{"id":"a6","lv":"a","x":1.96,"y":0.722},{"id":"a6","lv":"a","x":1.939,"y":0.676},{"id":"a6","lv":"a","x":1.857,"y":0.684},{"id":"a6","lv":"a","x":1.893,"y":0.63},{"id":"a6","lv":"a","x":1.939,"y":0.599},{"id":"a6","lv":"a","x":1.985,"y":0.445},{"id":"a6","lv":"a","x":2,"y":0.445},
{"id":"a7","lv":"a","x":1.939,"y":0.037},{"id":"a7","lv":"a","x":1.968,"y":-0.18},{"id":"a7","lv":"a","x":1.922,"y":-0.226},{"id":"a7","lv":"a","x":1.917,"y":-0.272},{"id":"a7","lv":"a","x":1.945,"y":-0.332},{"id":"a7","lv":"a","x":1.885,"y":-0.41},{"id":"a7","lv":"a","x":1.871,"y":-0.502},{"id":"a7","lv":"a","x":1.834,"y":-0.608},{"id":"a7","lv":"a","x":1.83,"y":-0.687},{"id":"a7","lv":"a","x":1.802,"y":-0.788},{"id":"a7","lv":"a","x":1.747,"y":-0.802},{"id":"a7","lv":"a","x":1.756,"y":-0.903},{"id":"a7","lv":"a","x":1.756,"y":-0.939},{"id":"a7","lv":"a","x":1.771,"y":-1.008},{"id":"a7","lv":"a","x":1.765,"y":-1.069},{"id":"a7","lv":"a","x":1.71,"y":-1.192},{"id":"a7","lv":"a","x":1.664,"y":-1.138},{"id":"a7","lv":"a","x":1.618,"y":-1.184},{"id":"a7","lv":"a","x":1.612,"y":-1.36},{"id":"a7","lv":"a","x":1.634,"y":-1.452},{"id":"a7","lv":"a","x":1.521,"y":-1.471},{"id":"a7","lv":"a","x":1.527,"y":-1.514},{"id":"a7","lv":"a","x":1.618,"y":-1.598},{"id":"a7","lv":"a","x":1.573,"y":-1.667},{"id":"a7","lv":"a","x":1.557,"y":-1.729},{"id":"a7","lv":"a","x":1.389,"y":-1.752},{"id":"a7","lv":"a","x":1.344,"y":-1.698},{"id":"a7","lv":"a","x":1.328,"y":-1.483},{"id":"a7","lv":"a","x":1.276,"y":-1.36},{"id":"a7","lv":"a","x":1.252,"y":-1.437},{"id":"a7","lv":"a","x":1.16,"y":-1.529},{"id":"a7","lv":"a","x":1.115,"y":-1.475},{"id":"a7","lv":"a","x":1.038,"y":-1.552},{"id":"a7","lv":"a","x":0.931,"y":-1.621},{"id":"a7","lv":"a","x":0.87,"y":-1.698},{"id":"a7","lv":"a","x":0.84,"y":-1.721},{"id":"a7","lv":"a","x":0.794,"y":-1.69},{"id":"a7","lv":"a","x":0.702,"y":-1.782},{"id":"a7","lv":"a","x":0.504,"y":-1.798},{"id":"a7","lv":"a","x":0.412,"y":-1.851},{"id":"a7","lv":"a","x":0.321,"y":-1.989},{"id":"a7","lv":"a","x":0.244,"y":-1.989},{"id":"a7","lv":"a","x":0.214,"y":-1.951},{"id":"a7","lv":"a","x":0.177,"y":-2},{"id":"a7","lv":"a","x":1.832,"y":-2},{"id":"a7","lv":"a","x":1.908,"y":-1.867},{"id":"a7","lv":"a","x":1.954,"y":-1.859},{"id":"a7","lv":"a","x":1.954,"y":-2},{"id":"a7","lv":"a","x":2,"y":-2},{"id":"a7","lv":"a","x":2,"y":0.037},
{"id":"a8","lv":"a","x":0.626,"y":-1.736},{"id":"a8","lv":"a","x":0.65,"y":-1.767},{"id":"a8","lv":"a","x":0.62,"y":-1.771},
{"id":"a9","lv":"a","x":-2,"y":-0.95},{"id":"a9","lv":"a","x":-1.863,"y":-0.954},{"id":"a9","lv":"a","x":-1.817,"y":-1.054},{"id":"a9","lv":"a","x":-1.695,"y":-1.138},{"id":"a9","lv":"a","x":-1.664,"y":-1.222},{"id":"a9","lv":"a","x":-1.618,"y":-1.291},{"id":"a9","lv":"a","x":-1.557,"y":-1.287},{"id":"a9","lv":"a","x":-1.46,"y":-1.36},{"id":"a9","lv":"a","x":-1.45,"y":-1.452},{"id":"a9","lv":"a","x":-1.389,"y":-1.506},{"id":"a9","lv":"a","x":-1.344,"y":-1.621},{"id":"a9","lv":"a","x":-1.374,"y":-1.66},{"id":"a9","lv":"a","x":-1.289,"y":-1.683},{"id":"a9","lv":"a","x":-1.319,"y":-1.744},{"id":"a9","lv":"a","x":-1.298,"y":-1.798},{"id":"a9","lv":"a","x":-1.221,"y":-1.79},{"id":"a9","lv":"a","x":-1.176,"y":-1.824},{"id":"a9","lv":"a","x":-1.069,"y":-1.817},{"id":"a9","lv":"a","x":-1.044,"y":-1.844},{"id":"a9","lv":"a","x":-1.099,"y":-1.897},{"id":"a9","lv":"a","x":-1.099,"y":-1.92},{"id":"a9","lv":"a","x":-1.237,"y":-1.989},{"id":"a9","lv":"a","x":-1.2,"y":-2},{"id":"a9","lv":"a","x":-2,"y":-2},
{"id":"a10","lv":"a","x":-0.611,"y":-1.989},{"id":"a10","lv":"a","x":-0.427,"y":-1.982},{"id":"a10","lv":"a","x":-0.275,"y":-1.989},{"id":"a10","lv":"a","x":-0.275,"y":-2},{"id":"a10","lv":"a","x":-0.611,"y":-2},
{"id":"w1","lv":"w","x":1.307,"y":-1.771},{"id":"w1","lv":"w","x":1.359,"y":-1.82},{"id":"w1","lv":"w","x":1.389,"y":-1.874},{"id":"w1","lv":"w","x":1.298,"y":-1.928},{"id":"w1","lv":"w","x":1.276,"y":-1.867},
{"id":"o1","lv":"o","x":1.206,"y":1.17},{"id":"o1","lv":"o","x":1.219,"y":1.21},{"id":"o1","lv":"o","x":1.243,"y":1.17},{"id":"o1","lv":"o","x":1.256,"y":1.14},{"id":"o1","lv":"o","x":1.235,"y":1.125},
{"id":"o2","lv":"o","x":-0.375,"y":0.515},{"id":"o2","lv":"o","x":-0.36,"y":0.54},{"id":"o2","lv":"o","x":-0.345,"y":0.515},{"id":"o2","lv":"o","x":-0.36,"y":0.49},
{"id":"o3","lv":"o","x":0.045,"y":-1.339},{"id":"o3","lv":"o","x":0.065,"y":-1.322},{"id":"o3","lv":"o","x":0.105,"y":-1.322},{"id":"o3","lv":"o","x":0.125,"y":-1.339},{"id":"o3","lv":"o","x":0.105,"y":-1.356},{"id":"o3","lv":"o","x":0.065,"y":-1.356},
{"id":"o4","lv":"o","x":0.227,"y":-1.56},{"id":"o4","lv":"o","x":0.235,"y":-1.545},{"id":"o4","lv":"o","x":0.243,"y":-1.56},{"id":"o4","lv":"o","x":0.235,"y":-1.575},
{"id":"o5","lv":"o","x":-1.817,"y":-2},{"id":"o5","lv":"o","x":-1.786,"y":-1.936},{"id":"o5","lv":"o","x":-1.74,"y":-1.951},{"id":"o5","lv":"o","x":-1.679,"y":-2},
{"id":"o6","lv":"o","x":-2,"y":-2},{"id":"o6","lv":"o","x":-1.985,"y":-1.966},{"id":"o6","lv":"o","x":-1.97,"y":-2},
{"id":"r1","lv":"r","x":-1.79,"y":-2},{"id":"r1","lv":"r","x":-1.77,"y":-1.96},{"id":"r1","lv":"r","x":-1.74,"y":-2}
],
"noevpContours":[
{"id":"k1","lv":"o","x":-1.267,"y":1.595},{"id":"k1","lv":"o","x":-1.252,"y":1.575},{"id":"k1","lv":"o","x":-1.307,"y":1.49},{"id":"k1","lv":"o","x":-1.405,"y":1.336},{"id":"k1","lv":"o","x":-1.441,"y":1.287},{"id":"k1","lv":"o","x":-1.472,"y":1.321},{"id":"k1","lv":"o","x":-1.405,"y":1.429},{"id":"k1","lv":"o","x":-1.389,"y":1.529},{"id":"k1","lv":"o","x":-1.313,"y":1.567},{"id":"k1","lv":"o","x":-1.267,"y":1.595},
{"id":"k2","lv":"o","x":-1.502,"y":1.183},{"id":"k2","lv":"o","x":-1.472,"y":1.228},{"id":"k2","lv":"o","x":-1.442,"y":1.183},{"id":"k2","lv":"o","x":-1.472,"y":1.138},{"id":"k2","lv":"o","x":-1.502,"y":1.183},
{"id":"k3","lv":"o","x":-0.58,"y":0.25},{"id":"k3","lv":"o","x":-0.565,"y":0.3},{"id":"k3","lv":"o","x":-0.489,"y":0.384},{"id":"k3","lv":"o","x":-0.412,"y":0.445},{"id":"k3","lv":"o","x":-0.305,"y":0.499},{"id":"k3","lv":"o","x":-0.153,"y":0.53},{"id":"k3","lv":"o","x":-0.015,"y":0.584},{"id":"k3","lv":"o","x":0.092,"y":0.591},{"id":"k3","lv":"o","x":0.122,"y":0.545},{"id":"k3","lv":"o","x":0.214,"y":0.499},{"id":"k3","lv":"o","x":0.214,"y":0.469},{"id":"k3","lv":"o","x":0.137,"y":0.458},{"id":"k3","lv":"o","x":0.244,"y":0.407},{"id":"k3","lv":"o","x":0.305,"y":0.353},{"id":"k3","lv":"o","x":0.36,"y":0.3},{"id":"k3","lv":"o","x":0.38,"y":0.25},
{"id":"k4","lv":"o","x":-0.977,"y":-0.939},{"id":"k4","lv":"o","x":-0.916,"y":-0.969},{"id":"k4","lv":"o","x":-0.718,"y":-1.13},{"id":"k4","lv":"o","x":-0.718,"y":-1.176},{"id":"k4","lv":"o","x":-0.763,"y":-1.184},{"id":"k4","lv":"o","x":-0.885,"y":-1.084},{"id":"k4","lv":"o","x":-0.977,"y":-0.977},{"id":"k4","lv":"o","x":-0.977,"y":-0.939},
{"id":"m1","lv":"r","x":-0.28,"y":0.25},{"id":"m1","lv":"r","x":-0.244,"y":0.3},{"id":"m1","lv":"r","x":-0.122,"y":0.369},{"id":"m1","lv":"r","x":0.015,"y":0.387},{"id":"m1","lv":"r","x":0.153,"y":0.361},{"id":"m1","lv":"r","x":0.269,"y":0.3},{"id":"m1","lv":"r","x":0.3,"y":0.25}
]
},
"vconcat":[{"hconcat":[
{"width":869,"height":868,"encoding":{"x":{"field":"x","type":"quantitative","title":null,"scale":{"domain":[-2,2],"nice":false},"axis":{"values":[-2,-1,0,1,2],"format":"d","grid":false,"domain":false,"tickSize":15,"tickWidth":3,"tickColor":"black","labelFont":"Liberation Sans","labelFontSize":47,"labelColor":"black","labelPadding":4,"labelFlush":false,"labelOverlap":false}},"y":{"field":"y","type":"quantitative","title":null,"scale":{"domain":[-2,2],"nice":false},"axis":{"values":[-2,-1,0,1,2],"format":"d","grid":false,"domain":false,"tickSize":15,"tickWidth":3,"tickColor":"black","labelFont":"Liberation Sans","labelFontSize":47,"labelColor":"black","labelPadding":10,"labelOverlap":false}}},
"layer":[
{"data":{"name":"streaks"},"mark":{"type":"rule","stroke":"#aeeaff","strokeWidth":2},"encoding":{"x":{"field":"x0"},"x2":{"field":"x1"}}},
{"data":{"name":"controlPools"},"transform":[{"window":[{"op":"row_number","as":"i"}]}],"mark":{"type":"line","filled":true,"interpolate":"cardinal-closed","tension":0.3,"clip":true,"strokeWidth":0},"encoding":{"detail":{"field":"id"},"fill":{"field":"lv","legend":null,"scale":{"domain":["a","b","c","d","w","o","r"],"range":["#00ffff","#0078ff","#0000ff","#000080","#ffffff","#ff4000","#b00000"]}},"order":{"field":"i","type":"quantitative"}}},
{"data":{"name":"seams"},"mark":{"type":"rule","stroke":"white","strokeWidth":1},"encoding":{"x":{"field":"x0"},"x2":{"field":"x1"}}},
{"data":{"name":"controlContours"},"transform":[{"window":[{"op":"row_number","as":"i"}]}],"mark":{"type":"line","interpolate":"cardinal","tension":0.3,"clip":true,"strokeWidth":5.5,"strokeCap":"round","strokeJoin":"round"},"encoding":{"detail":{"field":"id"},"stroke":{"field":"lv","legend":null,"scale":{"domain":["o","r"],"range":["#ff4000","#b00000"]}},"order":{"field":"i","type":"quantitative"}}},
{"data":{"values":[{"x0":-2,"x1":2,"y0":-2,"y1":2}]},"mark":{"type":"rect","fill":null,"stroke":"black","strokeWidth":3},"encoding":{"x":{"field":"x0"},"x2":{"field":"x1"},"y":{"field":"y0"},"y2":{"field":"y1"}}},
{"data":{"values":[{"x0":-2,"x1":-0.973,"y0":2,"y1":1.737}]},"mark":{"type":"rect","fill":"white","stroke":"#222222","strokeWidth":2.5},"encoding":{"x":{"field":"x0"},"x2":{"field":"x1"},"y":{"field":"y0"},"y2":{"field":"y1"}}},
{"data":{"values":[{"t":"T=60:00","x":-1.969,"y":1.765}]},"mark":{"type":"text","font":"Liberation Sans","fontSize":58,"fill":"#222222","align":"left","baseline":"alphabetic"},"encoding":{"text":{"field":"t"}}},
{"data":{"values":[{"x0":0.664,"x1":1.934,"y0":2.52,"y1":2.041}]},"mark":{"type":"rect","fill":"#fdf2fb"},"encoding":{"x":{"field":"x0"},"x2":{"field":"x1"},"y":{"field":"y0"},"y2":{"field":"y1"}}},
{"data":{"values":[{"t":"control","x":0.721,"y":2.138}]},"mark":{"type":"text","font":"Liberation Serif","fontWeight":"bold","fontSize":81,"fill":"black","align":"left","baseline":"alphabetic"},"encoding":{"text":{"field":"t"}}},
{"data":{"values":[{"t":"x100 [km]","x":-2.699,"y":2.161}]},"mark":{"type":"text","font":"Liberation Serif","fontWeight":"bold","fontSize":58,"fill":"black","align":"left","baseline":"alphabetic"},"encoding":{"text":{"field":"t"}}}
]},
{"width":869,"height":868,"encoding":{"x":{"field":"x","type":"quantitative","title":null,"scale":{"domain":[-2,2],"nice":false},"axis":{"values":[-2,-1,0,1,2],"format":"d","grid":false,"domain":false,"tickSize":15,"tickWidth":3,"tickColor":"black","labelFont":"Liberation Sans","labelFontSize":47,"labelColor":"black","labelPadding":4,"labelFlush":false,"labelOverlap":false}},"y":{"field":"y","type":"quantitative","title":null,"scale":{"domain":[-2,2],"nice":false},"axis":{"values":[-2,-1,0,1,2],"format":"d","grid":false,"domain":false,"tickSize":15,"tickWidth":3,"tickColor":"black","labelFont":"Liberation Sans","labelFontSize":47,"labelColor":"black","labelPadding":10,"labelOverlap":false}}},
"layer":[
{"data":{"name":"streaks"},"mark":{"type":"rule","stroke":"#ccffff","strokeWidth":2},"encoding":{"x":{"field":"x0"},"x2":{"field":"x1"}}},
{"data":{"name":"noevpPools"},"transform":[{"window":[{"op":"row_number","as":"i"}]}],"mark":{"type":"line","filled":true,"interpolate":"linear-closed","clip":true,"strokeWidth":0},"encoding":{"detail":{"field":"id"},"fill":{"field":"lv","legend":null,"scale":{"domain":["a","b","c","d","w","o","r"],"range":["#00ffff","#0078ff","#0000ff","#000080","#ffffff","#ff4000","#b00000"]}},"order":{"field":"i","type":"quantitative"}}},
{"data":{"name":"seams"},"mark":{"type":"rule","stroke":"white","strokeWidth":1},"encoding":{"x":{"field":"x0"},"x2":{"field":"x1"}}},
{"data":{"name":"noevpContours"},"transform":[{"window":[{"op":"row_number","as":"i"}]}],"mark":{"type":"line","interpolate":"cardinal","tension":0.4,"clip":true,"strokeWidth":5.5,"strokeCap":"round","strokeJoin":"round"},"encoding":{"detail":{"field":"id"},"stroke":{"field":"lv","legend":null,"scale":{"domain":["o","r"],"range":["#ff4000","#b00000"]}},"order":{"field":"i","type":"quantitative"}}},
{"data":{"values":[{"x0":-2,"x1":2,"y0":-2,"y1":2}]},"mark":{"type":"rect","fill":null,"stroke":"black","strokeWidth":3},"encoding":{"x":{"field":"x0"},"x2":{"field":"x1"},"y":{"field":"y0"},"y2":{"field":"y1"}}},
{"data":{"values":[{"x0":-2,"x1":-0.973,"y0":2,"y1":1.737}]},"mark":{"type":"rect","fill":"white","stroke":"#222222","strokeWidth":2.5},"encoding":{"x":{"field":"x0"},"x2":{"field":"x1"},"y":{"field":"y0"},"y2":{"field":"y1"}}},
{"data":{"values":[{"t":"T=60:00","x":-1.959,"y":1.765}]},"mark":{"type":"text","font":"Liberation Sans","fontSize":58,"fill":"#222222","align":"left","baseline":"alphabetic"},"encoding":{"text":{"field":"t"}}},
{"data":{"values":[{"x0":0.815,"x1":1.899,"y0":2.52,"y1":2.041}]},"mark":{"type":"rect","fill":"#fdf2fb"},"encoding":{"x":{"field":"x0"},"x2":{"field":"x1"},"y":{"field":"y0"},"y2":{"field":"y1"}}},
{"data":{"values":[{"t":"noevp","x":0.879,"y":2.138}]},"mark":{"type":"text","font":"Liberation Serif","fontWeight":"bold","fontSize":81,"fill":"black","align":"left","baseline":"alphabetic"},"encoding":{"text":{"field":"t"}}},
{"data":{"values":[{"x0":-6.67,"x1":1.7215,"y0":0.288,"y1":-0.915}]},"mark":{"type":"rect","fill":"#ffffe6","stroke":"#003366","strokeWidth":9,"cornerRadius":22},"encoding":{"x":{"field":"x0"},"x2":{"field":"x1"},"y":{"field":"y0"},"y2":{"field":"y1"}}},
{"data":{"values":[{"t":"In the control ex.","x":-6.506,"y":-0.212},{"t":"Cold pool and rainbands are actively formed.","x":-6.295,"y":-0.733}]},"mark":{"type":"text","font":"Liberation Serif","fontSize":94,"fill":"#003366","align":"left","baseline":"alphabetic"},"encoding":{"text":{"field":"t"}}},
{"data":{"values":[{"t":"x100 [km]","x":1.093,"y":-2.484}]},"mark":{"type":"text","font":"Liberation Serif","fontWeight":"bold","fontSize":58,"fill":"black","align":"left","baseline":"alphabetic"},"encoding":{"text":{"field":"t"}}},
{"data":{"values":[{"t":"[K]","x":-0.048,"y":-2.691}]},"mark":{"type":"text","font":"Liberation Serif","fontWeight":"bold","fontSize":56,"fill":"black","align":"left","baseline":"alphabetic"},"encoding":{"text":{"field":"t"}}}
]}
],"spacing":108,"bounds":"flush"},
{"width":1847,"height":37,"data":{"values":[{"from":-2.5,"to":-2,"c":"d"},{"from":-2,"to":-1.5,"c":"c"},{"from":-1.5,"to":-1,"c":"b"},{"from":-1,"to":-0.5,"c":"a"}]},"mark":{"type":"rect"},"encoding":{"x":{"field":"from","type":"quantitative","title":null,"scale":{"domain":[-2.5817,0.2641],"nice":false},"axis":{"values":[-2,-1.5,-1,-0.5],"format":".2~g","grid":false,"domain":false,"ticks":false,"labelFont":"Liberation Sans","labelFontSize":46,"labelColor":"black","labelPadding":9,"labelOverlap":false}},"x2":{"field":"to"},"fill":{"field":"c","legend":null,"scale":{"domain":["a","b","c","d","w","o","r"],"range":["#00ffff","#0078ff","#0000ff","#000080","#ffffff","#ff4000","#b00000"]}}}}
]}
